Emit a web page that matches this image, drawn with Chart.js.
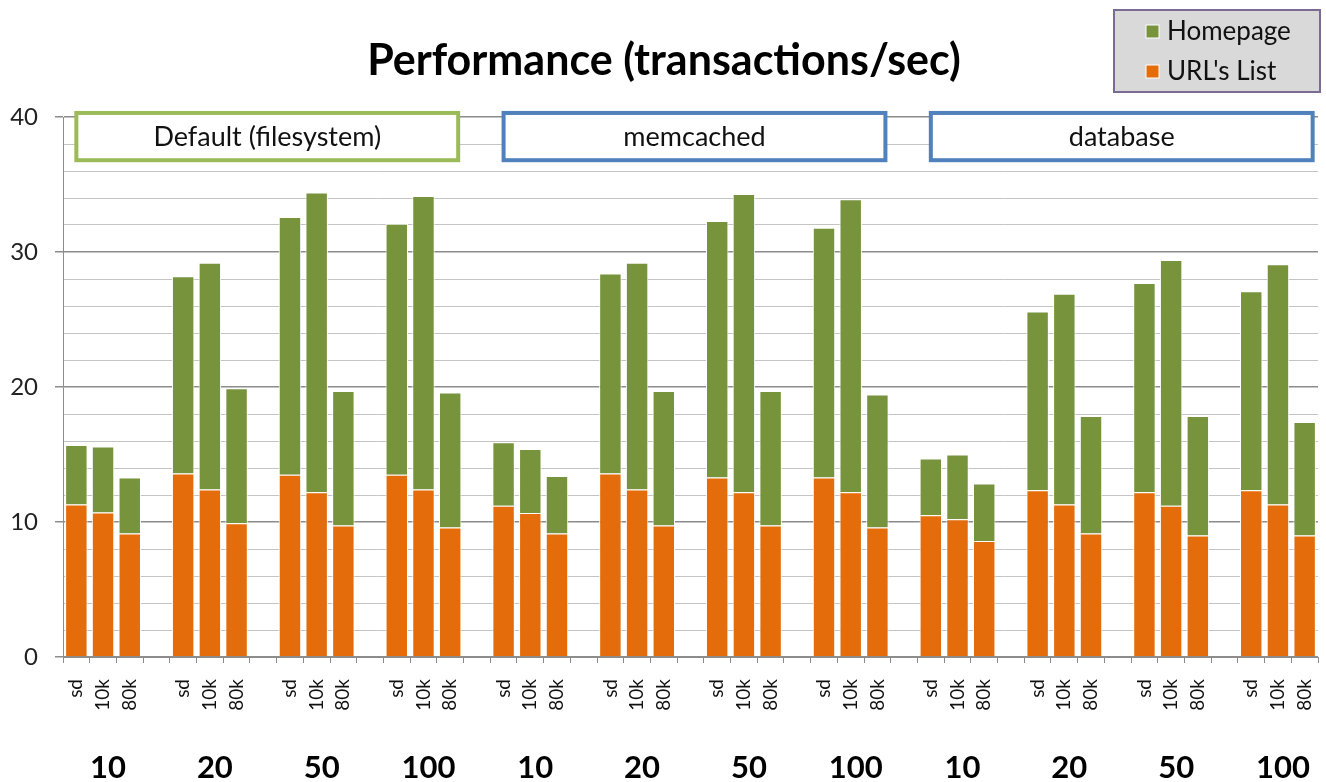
<!DOCTYPE html>
<html>
<head>
<meta charset="utf-8">
<script src="https://cdn.jsdelivr.net/npm/chart.js@4/dist/chart.umd.min.js"></script>
<style>
html,body{margin:0;padding:0;background:#fff;}
#wrap{position:relative;width:1326px;height:782px;}
</style>
</head>
<body>
<div id="wrap"><canvas id="c" width="1326" height="782"></canvas></div>
<script>
// ---- data ----
const variantLabels = ['sd', '10k', '80k'];
const groupLabels = ['10', '20', '50', '100', '10', '20', '50', '100', '10', '20', '50', '100'];
const backendLabels = ['Default (filesystem)', 'memcached', 'database'];
const seriesNames = ['Homepage', "URL's List"];
const urlListValues = [
  11.3, 10.7, 9.15,   13.6, 12.4, 9.9,   13.5, 12.2, 9.75,  13.5, 12.4, 9.6,
  11.2, 10.66, 9.15,  13.6, 12.4, 9.75,  13.3, 12.2, 9.75,  13.3, 12.2, 9.6,
  10.5, 10.2, 8.6,    12.35, 11.3, 9.15, 12.2, 11.2, 9.0,   12.35, 11.3, 9.0
];
const homepageValues = [
  4.4, 4.9, 4.15,    14.6, 16.8, 10.0,  19.1, 22.2, 9.95,  18.6, 21.75, 10.0,
  4.7, 4.74, 4.25,   14.8, 16.8, 9.95,  19.0, 22.1, 9.95,  18.5, 21.7, 9.85,
  4.2, 4.8, 4.25,    13.25, 15.6, 8.7,  15.5, 18.2, 8.85,  14.75, 17.8, 8.4
];
const yTicks = [0, 10, 20, 30, 40];

// ---- build category table (groups of three bars separated by an empty slot) ----
const labels = [], urlData = [], homeData = [], groupMid = [];
groupLabels.forEach((g, gi) => {
  variantLabels.forEach((v, vi) => {
    if (vi === 1) groupMid.push(labels.length);
    labels.push(v);
    urlData.push(urlListValues[gi * 3 + vi]);
    homeData.push(homepageValues[gi * 3 + vi]);
  });
  if (gi < groupLabels.length - 1) { labels.push(''); urlData.push(null); homeData.push(null); }
});

const GREEN = '#77933c', ORANGE = '#e46c0a';
const FONT = 'Lato, "Liberation Sans", sans-serif';

const overlay = {
  id: 'overlay',
  afterDraw(chart) {
    const ctx = chart.ctx, x = chart.scales.x, y = chart.scales.y;
    ctx.save();
    // title
    ctx.fillStyle = '#000';
    ctx.font = 'bold 43px ' + FONT;
    ctx.textAlign = 'center'; ctx.textBaseline = 'middle';
    ctx.fillText('Performance (transactions/sec)', 664, 61);
    // backend boxes
    const colors = ['#9bbb59', '#4f81bd', '#4f81bd'];
    const perGroup = 4;
    backendLabels.forEach((b, i) => {
      const first = (i * perGroup) * 4;
      const last = first + perGroup * 4 - 2;
      const left = x.getPixelForValue(first);
      const right = x.getPixelForValue(last) + 8;
      const top = y.getPixelForValue(40.3), bot = y.getPixelForValue(36.8);
      ctx.fillStyle = '#fff';
      ctx.fillRect(left, top, right - left, bot - top);
      ctx.strokeStyle = colors[i]; ctx.lineWidth = 4;
      ctx.strokeRect(left, top, right - left, bot - top);
      ctx.fillStyle = '#111';
      ctx.font = '27px ' + FONT;
      ctx.fillText(b, (left + right) / 2, (top + bot) / 2 + 1);
    });
    // group labels
    ctx.font = 'bold 31px ' + FONT;
    ctx.fillStyle = '#000';
    groupMid.forEach((idx, i) => {
      ctx.fillText(groupLabels[i], x.getPixelForValue(idx) + 5, 768);
    });
    // legend
    ctx.fillStyle = '#d9d9d9';
    ctx.fillRect(1114, 10, 206, 82);
    ctx.strokeStyle = '#7a6a94'; ctx.lineWidth = 2;
    ctx.strokeRect(1114, 10, 206, 82);
    const items = [[seriesNames[0], GREEN, 31], [seriesNames[1], ORANGE, 71]];
    ctx.textAlign = 'left';
    ctx.font = '26px ' + FONT;
    items.forEach(([t, c, cy]) => {
      ctx.fillStyle = c;
      ctx.fillRect(1146, cy - 6, 13, 13);
      ctx.strokeStyle = '#fff'; ctx.lineWidth = 1;
      ctx.strokeRect(1146, cy - 6, 13, 13);
      ctx.fillStyle = '#111';
      ctx.fillText(t, 1167, cy + 1);
    });
    ctx.restore();
  }
};

new Chart(document.getElementById('c'), {
  type: 'bar',
  data: {
    labels: labels,
    datasets: [
      { label: seriesNames[1], data: urlData, backgroundColor: ORANGE, borderColor: '#fff', borderWidth: 1 },
      { label: seriesNames[0], data: homeData, backgroundColor: GREEN, borderColor: '#fff', borderWidth: 1 }
    ]
  },
  options: {
    responsive: false,
    animation: false,
    layout: { padding: { top: 117, right: 8, left: 0, bottom: 0 } },
    datasets: { bar: { barPercentage: 0.84, categoryPercentage: 1 } },
    plugins: { legend: { display: false }, title: { display: false }, tooltip: { enabled: false } },
    scales: {
      x: {
        stacked: true,
        grid: { drawOnChartArea: false, drawTicks: true, tickLength: 6, color: '#8c8c8c', offset: true },
        border: { color: '#8c8c8c', width: 1 },
        ticks: { autoSkip: false, minRotation: 90, maxRotation: 90, padding: 16,
                 font: { family: FONT, size: 19 }, color: '#111' },
        afterFit(s) { s.height = 125; s.paddingLeft = 0; s.paddingRight = 0; }
      },
      y: {
        stacked: true, min: 0, max: 40,
        afterBuildTicks(s) {
          const t = [];
          for (let v = 0; v <= 40; v += 2) t.push({ value: v });
          s.ticks = t;
        },
        ticks: {
          autoSkip: false,
          callback: v => (yTicks.includes(v) ? String(v) : ''),
          font: { family: FONT, size: 24 }, color: '#222', padding: 17
        },
        grid: {
          color: c => (c.tick && c.tick.value % 10 === 0 ? '#8c8c8c' : '#c4c4c4'),
          lineWidth: c => (c.tick && c.tick.value % 10 === 0 ? 1.5 : 1),
          tickColor: c => (c.tick && c.tick.value % 10 === 0 ? '#8c8c8c' : 'rgba(0,0,0,0)'),
          tickLength: 8
        },
        border: { color: '#8c8c8c', width: 1 },
        afterFit(s) { s.width = 63; s.paddingTop = 0; s.paddingBottom = 0; }
      }
    }
  },
  plugins: [overlay]
});
</script>
</body>
</html>
